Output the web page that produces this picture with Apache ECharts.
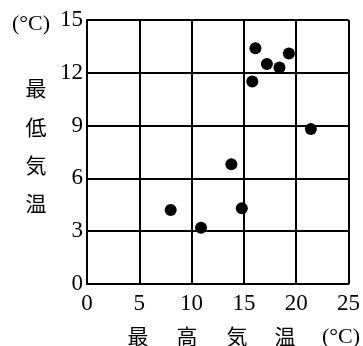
<!DOCTYPE html>
<html><head><meta charset="utf-8">
<script src="https://cdn.jsdelivr.net/npm/echarts@6/dist/echarts.min.js"></script>
<style>html,body{margin:0;padding:0;background:#fff}#c{width:363px;height:346px}</style>
</head><body><div id="c"></div>
<script>
const maxTemp = [8.0, 10.9, 13.8, 14.8, 15.8, 16.1, 17.2, 18.4, 19.3, 21.4];
const minTemp = [4.2, 3.2, 6.8, 4.3, 11.5, 13.4, 12.5, 12.3, 13.1, 8.8];
const xTicks = [0, 5, 10, 15, 20, 25];
const yTicks = [0, 3, 6, 9, 12, 15];
const xTitleChars = ['最', '高', '気', '温'];
const yTitleChars = ['最', '低', '気', '温'];
const unitText = '(°C)';

const serif = '"Liberation Serif","DejaVu Serif",serif';
const cjk = '"Noto Sans CJK JP","Noto Sans CJK SC",sans-serif';

const chart = echarts.init(document.getElementById('c'), null, {renderer: 'canvas'});
const graphics = [];
const xCenters = [138, 187, 237, 285];
xTitleChars.forEach((ch, i) => graphics.push({type: 'text', x: xCenters[i], y: 336,
  style: {text: ch, font: '21px ' + cjk, fill: '#000', align: 'center', verticalAlign: 'middle'}}));
const yCenters = [88, 127, 165, 203];
yTitleChars.forEach((ch, i) => graphics.push({type: 'text', x: 36, y: yCenters[i],
  style: {text: ch, font: '21px ' + cjk, fill: '#000', align: 'center', verticalAlign: 'middle'}}));
graphics.push({type: 'text', x: 31, y: 24, style: {text: unitText, font: '22px ' + serif, fill: '#000', align: 'center', verticalAlign: 'middle'}});
graphics.push({type: 'text', x: 341, y: 337, style: {text: unitText, font: '22px ' + serif, fill: '#000', align: 'center', verticalAlign: 'middle'}});

chart.setOption({
  animation: false,
  grid: {left: 87, top: 20, width: 264, height: 264},
  xAxis: {type: 'value', min: xTicks[0], max: xTicks[xTicks.length - 1], interval: 5,
    axisLine: {show: true, onZero: false, lineStyle: {color: '#000', width: 2}},
    axisTick: {show: false},
    splitLine: {show: true, lineStyle: {color: '#000', width: 2}},
    axisLabel: {color: '#000', fontFamily: serif, fontSize: 23, margin: 8}},
  yAxis: {type: 'value', min: yTicks[0], max: yTicks[yTicks.length - 1], interval: 3,
    axisLine: {show: true, onZero: false, lineStyle: {color: '#000', width: 2}},
    axisTick: {show: false},
    splitLine: {show: true, lineStyle: {color: '#000', width: 2}},
    axisLabel: {color: '#000', fontFamily: serif, fontSize: 23, margin: 4}},
  graphic: graphics,
  series: [{type: 'scatter', symbolSize: 12, itemStyle: {color: '#000', opacity: 1},
    data: maxTemp.map((x, i) => [x, minTemp[i]])}]
});
</script></body></html>
